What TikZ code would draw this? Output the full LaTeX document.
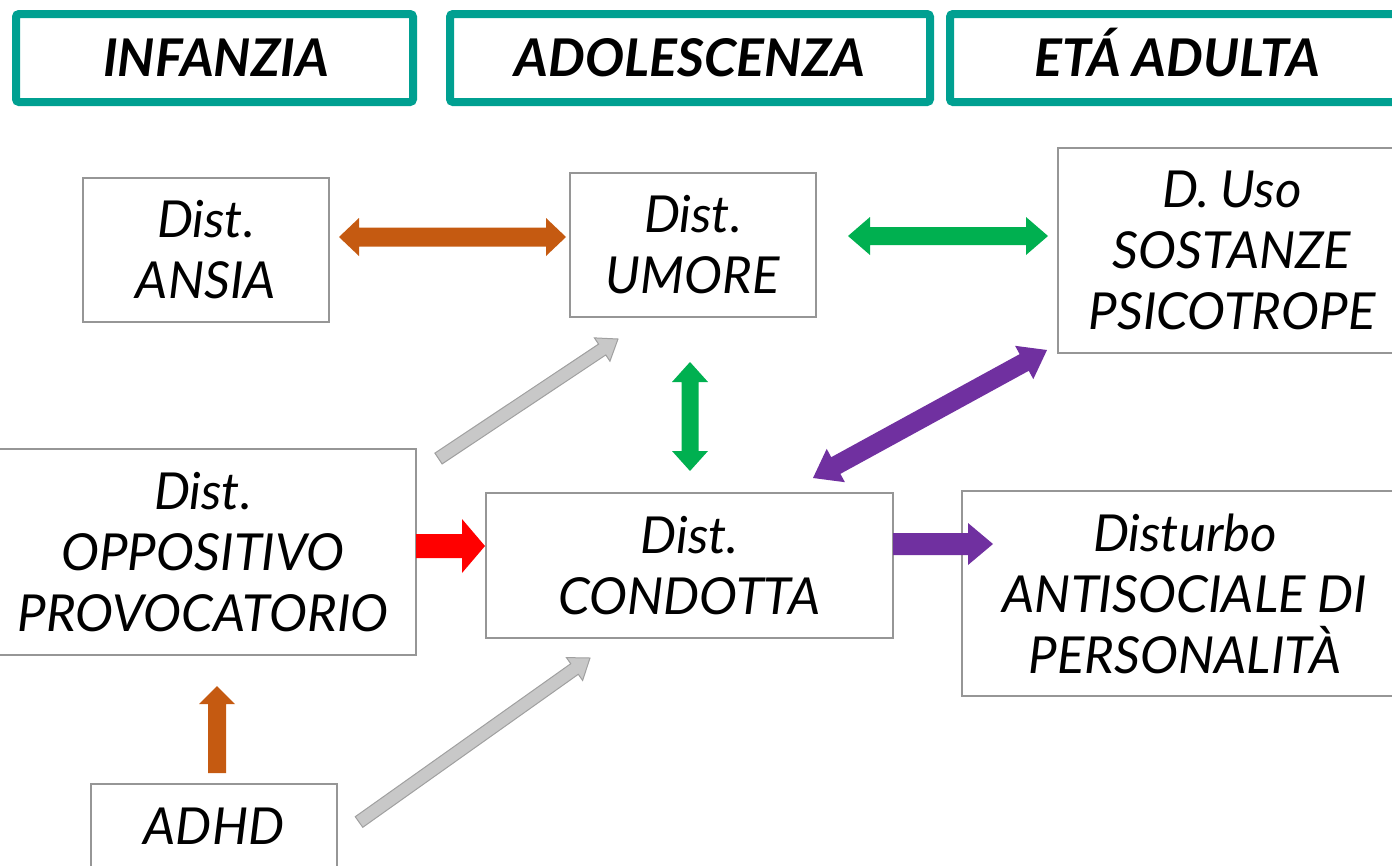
\documentclass[tikz,border=0pt]{standalone}
\usepackage{fontspec}
\setmainfont{Lato}
\usetikzlibrary{calc}
\definecolor{hdrteal}{RGB}{0,160,145}
\definecolor{boxgray}{RGB}{150,150,150}
\definecolor{arrorange}{RGB}{197,90,17}
\definecolor{arrgreen}{RGB}{0,176,80}
\definecolor{arrpurple}{RGB}{112,48,160}
\definecolor{arrred}{RGB}{255,0,0}
\definecolor{arrgrayfill}{RGB}{200,200,200}
\definecolor{arrgrayline}{RGB}{160,160,160}
% single block arrow: style, tail, tip, half shaft, half head, head length
\newcommand\sblockarrow[6]{%
  \coordinate (baH) at ($(#3)!#6!(#2)$);
  \path[#1] ($(#2)!#4!90:(#3)$) -- ($(baH)!#4!-90:(#2)$) -- ($(baH)!#5!-90:(#2)$) -- (#3)
    -- ($(baH)!#5!90:(#2)$) -- ($(baH)!#4!90:(#2)$) -- ($(#2)!#4!-90:(#3)$) -- cycle;}
% double block arrow
\newcommand\dblockarrow[6]{%
  \coordinate (baHa) at ($(#2)!#6!(#3)$);
  \coordinate (baHb) at ($(#3)!#6!(#2)$);
  \path[#1] (#2) -- ($(baHa)!#5!90:(#3)$) -- ($(baHa)!#4!90:(#3)$) -- ($(baHb)!#4!-90:(#2)$)
    -- ($(baHb)!#5!-90:(#2)$) -- (#3) -- ($(baHb)!#5!90:(#2)$) -- ($(baHb)!#4!90:(#2)$)
    -- ($(baHa)!#4!-90:(#3)$) -- ($(baHa)!#5!-90:(#3)$) -- cycle;}
\tikzset{
  header/.style={draw=hdrteal, line width=8pt, rounded corners=3pt, minimum height=88pt, inner sep=0pt},
  headtext/.style={anchor=base, inner sep=0pt, font=\fontsize{52}{60}\selectfont\bfseries\itshape},
  box/.style={draw=boxgray, line width=1.5pt, align=center, inner sep=0pt,
    font=\fontsize{51}{61}\selectfont\itshape},
}
\begin{document}
\begin{tikzpicture}[x=1pt,y=-1pt]
\useasboundingbox (0,0) rectangle (1392,865);
\clip (0,0) rectangle (1392,865);
% headers
\node[header, minimum width=397pt] (hinf) at (214.5,58) {};
\node[headtext] (tinf) at (216,76) {INFANZIA};
\node[header, minimum width=480pt] (hado) at (690,58) {};
\node[headtext] (tado) at (690,76) {ADOLESCENZA};
\node[header, minimum width=454pt] (hadu) at (1177,58) {};
\node[headtext] (tadu) at (1177,76) {ETÁ ADULTA};
% boxes
\node[box, minimum width=246pt, minimum height=144pt] (ansia) at (206,250) {Dist.\\ANSIA};
\node[box, minimum width=246pt, minimum height=144pt] (umore) at (693,245) {Dist.\\UMORE};
\node[box, minimum width=348pt, minimum height=205pt] (sost) at (1232,250.5) {D. Uso\\SOSTANZE\\PSICOTROPE};
\node[box, minimum width=426pt, minimum height=206pt] (opp) at (203,552) {Dist.\\OPPOSITIVO\\PROVOCATORIO};
\node[box, minimum width=407pt, minimum height=145pt] (cond) at (689.5,565.5) {Dist.\\CONDOTTA};
\node[box, minimum width=446pt, minimum height=205pt] (anti) at (1185,593.5) {Disturbo\\ANTISOCIALE DI\\PERSONALITÀ};
\node[box, minimum width=246pt, minimum height=84pt] (adhd) at (214,826) {ADHD};
% arrow end points
\coordinate (oa1) at (339,237); \coordinate (oa2) at (566,237);
\coordinate (ga1) at (848,236); \coordinate (ga2) at (1048,236);
\coordinate (gv1) at (690,362); \coordinate (gv2) at (690,471);
\coordinate (pd1) at (813,478); \coordinate (pd2) at (1047,350);
\coordinate (ra1) at (416,546); \coordinate (ra2) at (485,546);
\coordinate (pr1) at (893,544); \coordinate (pr2) at (993,544);
\coordinate (ou1) at (217,773); \coordinate (ou2) at (217,686);
\coordinate (gr1) at (438.5,458.5); \coordinate (gr2) at (618,339);
\coordinate (gs1) at (359,822); \coordinate (gs2) at (590,658);
% arrows
\dblockarrow{fill=arrorange}{oa1}{oa2}{9.5pt}{19pt}{20pt}
\dblockarrow{fill=arrgreen}{ga1}{ga2}{9pt}{19pt}{22pt}
\dblockarrow{fill=arrgreen}{gv1}{gv2}{8.5pt}{18pt}{20pt}
\dblockarrow{fill=arrpurple}{pd1}{pd2}{9.5pt}{19pt}{26pt}
\sblockarrow{fill=arrred}{ra1}{ra2}{12pt}{27pt}{23pt}
\sblockarrow{fill=arrpurple}{pr1}{pr2}{11pt}{21pt}{25pt}
\sblockarrow{fill=arrorange}{ou1}{ou2}{9pt}{18pt}{18pt}
\sblockarrow{fill=arrgrayfill, draw=arrgrayline, line width=1pt}{gr1}{gr2}{6.5pt}{14pt}{19pt}
\sblockarrow{fill=arrgrayfill, draw=arrgrayline, line width=1pt}{gs1}{gs2}{6.5pt}{14pt}{19pt}
\end{tikzpicture}
\end{document}
